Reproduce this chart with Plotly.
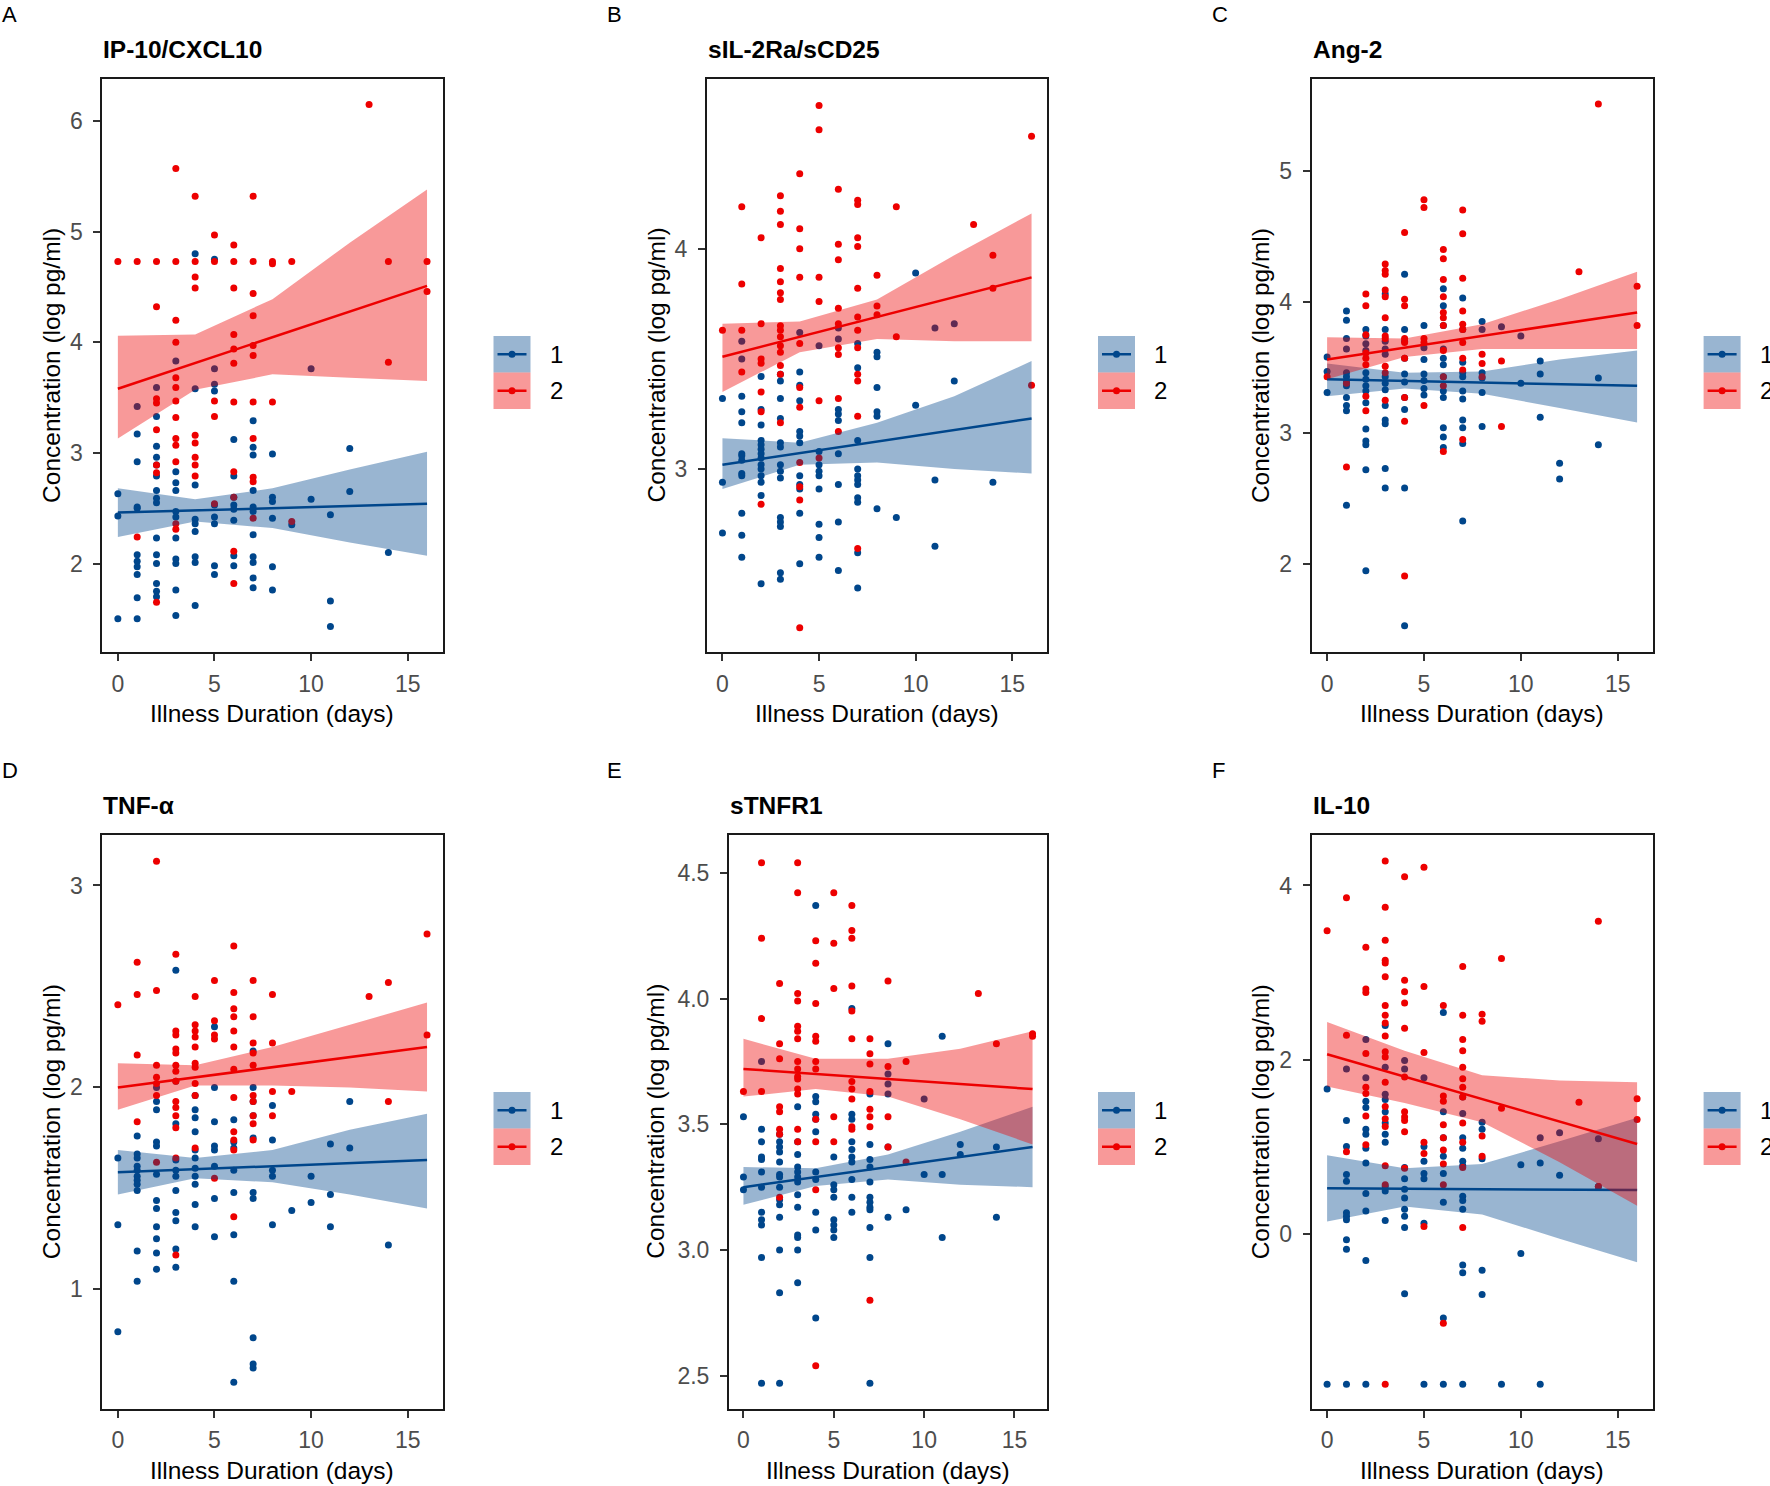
import plotly.graph_objects as go

W, H = 1770, 1486
FONT = "Liberation Sans, Arial, sans-serif"
BLUE = "#00468B"
RED = "#ED0000"
BLUE_FILL = "rgba(0,70,139,0.4)"
RED_FILL = "rgba(237,0,0,0.4)"

# ---------------- data (illness day -> log concentrations) ----------------
A_blue = {0: [2.63, 2.43, 1.50],
          1: [3.42, 3.17, 2.92, 2.51, 2.50, 2.08, 2.02, 1.97, 1.90, 1.69, 1.50],
          2: [3.59, 3.33, 3.06, 2.96, 2.89, 2.79, 2.66, 2.59, 2.55, 2.23, 2.08, 2.00, 1.82, 1.75, 1.70],
          3: [3.83, 2.83, 2.73, 2.66, 2.47, 2.42, 2.23, 2.04, 2.00, 1.76, 1.53],
          4: [4.80, 3.58, 2.71, 2.40, 2.36, 2.29, 2.06, 2.01, 1.62],
          5: [4.75, 3.76, 3.62, 3.56, 2.53, 2.42, 2.36, 1.98, 1.90],
          6: [3.12, 2.79, 2.60, 2.53, 2.49, 2.39, 2.07, 1.98],
          7: [3.29, 3.05, 2.98, 2.66, 2.51, 2.47, 2.26, 2.06, 2.01, 1.87, 1.78],
          8: [2.99, 2.60, 2.56, 2.41, 1.97, 1.76],
          9: [2.35], 10: [3.76, 2.58], 11: [2.44, 1.66, 1.43], 12: [3.04, 2.65], 14: [2.10]}
A_red = {0: [4.73], 1: [4.73, 2.24],
         2: [4.73, 4.32, 3.49, 3.45, 3.21, 2.89, 2.82, 1.65],
         3: [5.57, 4.73, 4.20, 4.00, 3.68, 3.59, 3.47, 3.32, 3.13, 3.07, 2.92, 2.36, 2.31],
         4: [5.32, 4.73, 4.59, 4.49, 3.16, 3.09, 2.96, 2.89, 2.79],
         5: [4.97, 4.73, 3.47, 3.33, 2.54],
         6: [4.88, 4.73, 4.49, 4.07, 3.94, 3.81, 3.46, 2.83, 2.60, 2.11, 1.82],
         7: [5.32, 4.73, 4.44, 4.24, 3.97, 3.88, 3.46, 3.13, 2.78, 2.74, 2.41],
         8: [4.73, 4.71, 3.46], 9: [4.73, 2.38], 13: [6.15], 14: [4.73, 3.82], 16: [4.73, 4.46]}

B_blue = {0: [3.32, 2.94, 2.71],
          1: [3.58, 3.50, 3.33, 3.26, 3.21, 3.07, 3.06, 3.04, 2.98, 2.97, 2.80, 2.70, 2.60],
          2: [3.42, 3.27, 3.20, 3.13, 3.11, 3.09, 3.07, 3.05, 3.02, 3.00, 2.97, 2.94, 2.88, 2.48],
          3: [3.43, 3.40, 3.32, 3.23, 3.12, 3.10, 3.02, 2.99, 2.96, 2.78, 2.76, 2.74, 2.53, 2.50],
          4: [3.62, 3.44, 3.38, 3.31, 3.17, 3.15, 3.12, 2.97, 2.93, 2.91, 2.80, 2.57],
          5: [3.56, 3.08, 3.02, 2.99, 2.97, 2.91, 2.75, 2.69, 2.60],
          6: [3.64, 3.59, 3.27, 3.25, 3.22, 3.07, 2.93, 2.76, 2.54],
          7: [3.57, 3.46, 3.13, 3.00, 2.97, 2.95, 2.93, 2.87, 2.85, 2.62, 2.46],
          8: [3.53, 3.51, 3.37, 3.26, 3.24, 2.82],
          9: [2.78], 10: [3.89, 3.29], 11: [3.64, 2.95, 2.65], 12: [3.66, 3.40], 14: [2.94]}
B_red = {0: [3.63], 1: [4.19, 3.84, 3.63, 3.44],
         2: [4.05, 3.66, 3.50, 3.48, 3.35, 3.26, 2.84],
         3: [4.24, 4.17, 4.11, 3.91, 3.85, 3.80, 3.77, 3.65, 3.63, 3.60, 3.56, 3.53, 3.47, 3.43, 3.21],
         4: [4.34, 4.09, 4.00, 3.87, 3.57, 3.37, 3.28, 3.03, 2.92, 2.86, 2.28],
         5: [4.65, 4.54, 3.87, 3.76, 3.31, 3.05],
         6: [4.27, 4.02, 3.95, 3.73, 3.66, 3.55, 3.52, 3.32, 3.17],
         7: [4.22, 4.20, 4.05, 4.01, 3.82, 3.69, 3.63, 3.55, 3.43, 3.40, 3.24, 2.64],
         8: [3.88, 3.74, 3.70], 9: [4.19, 3.60], 13: [4.11], 14: [3.97, 3.82], 16: [4.51, 3.38]}

C_blue = {0: [3.58, 3.47, 3.31],
          1: [3.93, 3.86, 3.72, 3.64, 3.46, 3.43, 3.39, 3.36, 3.27, 3.21, 3.17, 2.45],
          2: [3.79, 3.74, 3.68, 3.63, 3.46, 3.41, 3.36, 3.32, 3.23, 3.03, 2.94, 2.91, 2.72, 1.95],
          3: [4.06, 3.79, 3.70, 3.64, 3.60, 3.43, 3.38, 3.33, 3.21, 3.10, 3.07, 2.73, 2.58],
          4: [4.21, 3.79, 3.70, 3.57, 3.45, 3.39, 3.27, 3.18, 2.58, 1.53],
          5: [3.82, 3.65, 3.56, 3.45, 3.40, 3.34, 3.29],
          6: [4.10, 3.97, 3.82, 3.64, 3.57, 3.52, 3.43, 3.32, 3.27, 3.04, 2.97, 2.89],
          7: [4.03, 3.79, 3.54, 3.46, 3.43, 3.32, 3.26, 3.10, 3.04, 2.92, 2.33],
          8: [3.85, 3.79, 3.46, 3.42, 3.31, 3.05],
          9: [3.81], 10: [3.74, 3.38], 11: [3.55, 3.45, 3.12], 12: [2.77, 2.65], 14: [3.42, 2.91]}
C_red = {0: [3.43], 1: [3.38, 2.74],
         2: [4.06, 3.97, 3.75, 3.61, 3.57, 3.52, 3.28, 3.17],
         3: [4.29, 4.24, 4.21, 4.09, 4.04, 3.88, 3.74, 3.72, 3.51, 3.46, 3.25],
         4: [4.53, 4.02, 3.97, 3.72, 3.69, 3.57, 3.27, 3.09, 1.91],
         5: [4.78, 4.72, 3.72, 3.69, 3.21],
         6: [4.40, 4.33, 4.17, 4.04, 3.92, 3.88, 3.82, 3.63, 3.43, 3.36, 2.86],
         7: [4.70, 4.52, 4.18, 3.93, 3.83, 3.79, 3.69, 3.57, 3.48, 2.95],
         8: [3.60, 3.53, 3.43], 9: [3.55, 3.05], 13: [4.23], 14: [5.51], 16: [4.12, 3.82]}

D_blue = {0: [1.65, 1.32, 0.79],
          1: [1.76, 1.67, 1.65, 1.61, 1.59, 1.56, 1.54, 1.52, 1.49, 1.19, 1.04],
          2: [2.00, 1.93, 1.89, 1.73, 1.71, 1.57, 1.44, 1.40, 1.31, 1.25, 1.18, 1.10],
          3: [2.58, 2.03, 1.82, 1.64, 1.59, 1.56, 1.49, 1.38, 1.34, 1.20, 1.11],
          4: [1.96, 1.89, 1.85, 1.78, 1.69, 1.65, 1.60, 1.56, 1.52, 1.42, 1.31],
          5: [2.30, 2.00, 1.83, 1.71, 1.69, 1.61, 1.45, 1.26],
          6: [1.84, 1.73, 1.70, 1.59, 1.48, 1.27, 1.04, 0.54],
          7: [2.18, 2.00, 1.93, 1.86, 1.75, 1.48, 1.45, 0.76, 0.63, 0.61],
          8: [1.91, 1.74, 1.59, 1.56, 1.32],
          9: [1.39], 10: [1.56, 1.43], 11: [1.72, 1.47, 1.31], 12: [1.93, 1.70], 14: [1.22]}
D_red = {0: [2.41], 1: [2.62, 2.46, 2.16, 1.83],
         2: [3.12, 2.48, 2.11, 2.05, 2.02, 1.96, 1.63],
         3: [2.66, 2.28, 2.26, 2.19, 2.17, 2.11, 2.08, 2.03, 1.93, 1.90, 1.86, 1.80, 1.65, 1.17],
         4: [2.45, 2.31, 2.28, 2.25, 2.20, 2.12, 2.10, 2.02, 1.96, 1.70],
         5: [2.53, 2.33, 2.26, 2.24, 1.55],
         6: [2.70, 2.47, 2.39, 2.35, 2.28, 2.20, 2.09, 1.95, 1.78, 1.74, 1.69, 1.36],
         7: [2.53, 2.35, 2.22, 2.17, 2.11, 1.96, 1.93, 1.86, 1.82, 1.74],
         8: [2.46, 2.22, 1.98, 1.86], 9: [1.98], 13: [2.45], 14: [2.52, 1.93], 16: [2.76, 2.26]}

E_blue = {0: [3.53, 3.29, 3.24],
          1: [3.75, 3.48, 3.43, 3.37, 3.36, 3.31, 3.25, 3.15, 3.12, 3.10, 2.97, 2.47],
          2: [3.46, 3.43, 3.41, 3.39, 3.35, 3.30, 3.29, 3.25, 3.20, 3.18, 3.13, 3.00, 2.83, 2.47],
          3: [3.57, 3.43, 3.38, 3.33, 3.31, 3.29, 3.27, 3.22, 3.17, 3.06, 3.05, 3.00, 2.87],
          4: [4.37, 3.61, 3.59, 3.54, 3.52, 3.47, 3.31, 3.28, 3.15, 3.08, 2.73],
          5: [3.37, 3.26, 3.24, 3.21, 3.12, 3.10, 3.08, 3.05],
          6: [3.96, 3.54, 3.52, 3.43, 3.40, 3.37, 3.35, 3.28, 3.21, 3.15],
          7: [3.62, 3.42, 3.36, 3.33, 3.27, 3.21, 3.19, 3.17, 3.16, 3.09, 2.97, 2.47],
          8: [3.82, 3.70, 3.66, 3.62, 3.41, 3.13],
          9: [3.16], 10: [3.60, 3.30], 11: [3.85, 3.30, 3.05], 12: [3.42, 3.38], 14: [3.41, 3.13]}
E_red = {0: [3.63], 1: [4.54, 4.24, 3.92, 3.63],
         2: [4.06, 3.82, 3.76, 3.57, 3.55, 3.48, 3.46, 3.21],
         3: [4.54, 4.42, 4.02, 3.99, 3.89, 3.87, 3.84, 3.75, 3.72, 3.69, 3.68, 3.64, 3.62, 3.48, 3.43],
         4: [4.23, 4.14, 3.98, 3.85, 3.83, 3.75, 3.72, 3.52, 3.43, 3.24, 2.54],
         5: [4.42, 4.22, 4.04, 3.53, 3.43],
         6: [4.37, 4.27, 4.24, 4.05, 3.95, 3.84, 3.67, 3.64, 3.60, 3.49, 3.48],
         7: [3.84, 3.78, 3.74, 3.63, 3.56, 3.53, 3.49, 2.80],
         8: [4.07, 3.73, 3.53, 3.41], 9: [3.75, 3.35], 13: [4.02], 14: [3.82], 16: [3.86, 3.85]}

F_blue = {0: [1.66, -1.73],
          1: [1.89, 1.30, 1.00, 0.68, 0.60, 0.24, 0.20, 0.16, -0.07, -0.18, -1.73],
          2: [2.23, 1.79, 1.52, 1.45, 1.20, 1.14, 0.98, 0.81, 0.46, 0.26, -0.31, -1.73],
          3: [2.39, 1.91, 1.60, 1.54, 1.40, 1.27, 1.14, 1.05, 0.54, 0.49, 0.15],
          4: [1.99, 1.89, 0.76, 0.63, 0.51, 0.41, 0.28, 0.20, 0.07, -0.69],
          5: [1.79, 1.00, 0.83, 0.69, 0.63, 0.12, -1.73],
          6: [2.54, 1.40, 1.10, 0.89, 0.69, 0.36, -0.97, -1.73],
          7: [1.57, 1.38, 1.10, 0.98, 0.83, 0.78, 0.43, 0.38, 0.28, -0.36, -0.45, -1.73],
          8: [1.28, 1.20, 0.86, -0.42, -0.70],
          9: [-1.73], 10: [0.79, -0.23], 11: [1.10, 0.81, -1.73], 12: [1.16, 0.67], 14: [1.09, 0.54]}
F_red = {0: [3.48], 1: [3.86, 2.28, 0.94],
         2: [3.29, 2.81, 2.77, 2.07, 1.68, 1.61, 1.35, 1.02],
         3: [4.28, 3.75, 3.37, 3.14, 3.11, 2.95, 2.62, 2.51, 2.42, 2.27, 2.09, 2.03, 1.74, 1.46, 1.32, 1.23, 0.78, 0.56, -1.73],
         4: [4.10, 2.91, 2.78, 2.65, 2.36, 1.80, 1.40, 1.34, 1.30, 1.17, 0.75],
         5: [4.21, 2.84, 2.08, 1.05, 0.92, 0.08],
         6: [2.62, 1.58, 1.52, 1.25, 1.10, 0.96, 0.80, 0.56, -1.03],
         7: [3.07, 2.51, 2.23, 2.10, 1.91, 1.78, 1.68, 1.57, 1.27, 1.05, 0.76, 0.07],
         8: [2.52, 2.44, 1.12, 0.89], 9: [3.16, 1.44], 13: [1.51], 14: [3.59, 0.54], 16: [1.55, 1.31]}

# linear fits: line values at days 0 and 16, CI band at FIT_X
LINE_X = [0, 16]
FIT_X = [0, 4, 8, 12, 16]
A_blue_line, A_blue_lo, A_blue_hi = [2.46, 2.54], [2.24, 2.38, 2.32, 2.19, 2.07], [2.68, 2.58, 2.68, 2.85, 3.01]
A_red_line, A_red_lo, A_red_hi = [3.58, 4.51], [3.13, 3.57, 3.71, 3.68, 3.65], [4.06, 4.07, 4.39, 4.90, 5.38]
B_blue_line, B_blue_lo, B_blue_hi = [3.02, 3.23], [2.91, 3.02, 3.03, 3.00, 2.98], [3.14, 3.12, 3.21, 3.33, 3.49]
B_red_line, B_red_lo, B_red_hi = [3.51, 3.87], [3.35, 3.53, 3.59, 3.58, 3.58], [3.66, 3.67, 3.77, 3.97, 4.16]
C_blue_line, C_blue_lo, C_blue_hi = [3.41, 3.36], [3.28, 3.34, 3.30, 3.19, 3.08], [3.53, 3.46, 3.47, 3.56, 3.63]
C_red_line, C_red_lo, C_red_hi = [3.56, 3.92], [3.41, 3.58, 3.64, 3.64, 3.64], [3.73, 3.72, 3.83, 4.02, 4.23]
D_blue_line, D_blue_lo, D_blue_hi = [1.58, 1.64], [1.47, 1.55, 1.53, 1.47, 1.40], [1.69, 1.65, 1.69, 1.79, 1.87]
D_red_line, D_red_lo, D_red_hi = [2.00, 2.20], [1.89, 2.01, 2.01, 2.00, 1.98], [2.12, 2.11, 2.20, 2.31, 2.42]
E_blue_line, E_blue_lo, E_blue_hi = [3.25, 3.41], [3.18, 3.255, 3.28, 3.26, 3.25], [3.33, 3.325, 3.38, 3.47, 3.57]
E_red_line, E_red_lo, E_red_hi = [3.72, 3.64], [3.61, 3.64, 3.61, 3.52, 3.42], [3.84, 3.76, 3.76, 3.80, 3.87]
F_blue_line, F_blue_lo, F_blue_hi = [0.52, 0.50], [0.14, 0.31, 0.22, -0.06, -0.33], [0.90, 0.75, 0.80, 1.06, 1.33]
F_red_line, F_red_lo, F_red_hi = [2.06, 1.03], [1.69, 1.50, 1.28, 0.82, 0.32], [2.43, 2.10, 1.82, 1.76, 1.74]

TITLES = ["IP-10/CXCL10", "sIL-2Ra/sCD25", "Ang-2", "TNF-\u03b1", "sTNFR1", "IL-10"]
LETTERS = ["A", "B", "C", "D", "E", "F"]
X_TICKS = [0, 5, 10, 15]
Y_TICKS = [[2, 3, 4, 5, 6], [3, 4], [2, 3, 4, 5], [1, 2, 3], [2.5, 3.0, 3.5, 4.0, 4.5], [0, 2, 4]]
GROUP_LABELS = ["1", "2"]

# ---------------- layout settings (pixels) ----------------
panels = [
    dict(blue=A_blue, red=A_red, fits=[(A_blue_line, A_blue_lo, A_blue_hi), (A_red_line, A_red_lo, A_red_hi)],
         yr=[1.20, 6.38], left=102.4, base=102.4, right=442.5, row=0, fmt=None),
    dict(blue=B_blue, red=B_red, fits=[(B_blue_line, B_blue_lo, B_blue_hi), (B_red_line, B_red_lo, B_red_hi)],
         yr=[2.17, 4.77], left=707.0, base=707.0, right=1047.0, row=0, fmt=None),
    dict(blue=C_blue, red=C_red, fits=[(C_blue_line, C_blue_lo, C_blue_hi), (C_red_line, C_red_lo, C_red_hi)],
         yr=[1.33, 5.70], left=1311.6, base=1311.6, right=1652.6, row=0, fmt=None),
    dict(blue=D_blue, red=D_red, fits=[(D_blue_line, D_blue_lo, D_blue_hi), (D_red_line, D_red_lo, D_red_hi)],
         yr=[0.41, 3.25], left=102.4, base=102.4, right=442.5, row=1, fmt=None),
    dict(blue=E_blue, red=E_red, fits=[(E_blue_line, E_blue_lo, E_blue_hi), (E_red_line, E_red_lo, E_red_hi)],
         yr=[2.37, 4.65], left=729.0, base=707.0, right=1047.0, row=1, fmt=".1f"),
    dict(blue=F_blue, red=F_red, fits=[(F_blue_line, F_blue_lo, F_blue_hi), (F_red_line, F_red_lo, F_red_hi)],
         yr=[-2.01, 4.58], left=1311.6, base=1311.6, right=1652.6, row=1, fmt=None),
]
ROW_TOP = [79.0, 835.0]
ROW_BOT = [652.0, 1408.5]


def fx(px):
    return px / W


def fy(py):
    return 1 - py / H


def expand(d):
    xs, ys = [], []
    for k, vals in d.items():
        for v in vals:
            xs.append(k)
            ys.append(v)
    return xs, ys


fig = go.Figure()
annotations = []
shapes = []

for i, p in enumerate(panels):
    n = i + 1
    xa = "x" if n == 1 else f"x{n}"
    ya = "y" if n == 1 else f"y{n}"
    top, bot = ROW_TOP[p["row"]], ROW_BOT[p["row"]]

    # points first
    for grp, col in ((p["blue"], BLUE), (p["red"], RED)):
        xs, ys = expand(grp)
        fig.add_trace(go.Scatter(x=xs, y=ys, mode="markers", xaxis=xa, yaxis=ya,
                                 marker=dict(color=col, size=7, line=dict(width=0)),
                                 showlegend=False, hoverinfo="skip"))
    # ribbons and lines
    for (line, lo, hi), col, fill in zip(p["fits"], (BLUE, RED), (BLUE_FILL, RED_FILL)):
        fig.add_trace(go.Scatter(x=FIT_X + FIT_X[::-1], y=hi + lo[::-1], mode="lines",
                                 fill="toself", fillcolor=fill, line=dict(width=0),
                                 xaxis=xa, yaxis=ya, showlegend=False, hoverinfo="skip"))
        fig.add_trace(go.Scatter(x=LINE_X, y=line, mode="lines", line=dict(color=col, width=2.5),
                                 xaxis=xa, yaxis=ya, showlegend=False, hoverinfo="skip"))

    axis_common = dict(showline=True, mirror=True, linecolor="#1a1a1a", linewidth=2,
                       ticks="outside", ticklen=7, tickwidth=2, tickcolor="#333333",
                       showgrid=False, zeroline=False,
                       tickfont=dict(family=FONT, size=23, color="#4d4d4d"))
    xkey = "xaxis" if n == 1 else f"xaxis{n}"
    ykey = "yaxis" if n == 1 else f"yaxis{n}"
    fig.layout[xkey] = dict(domain=[fx(p["left"]), fx(p["right"])], anchor=ya,
                            range=[-0.8, 16.8], tickvals=X_TICKS, ticklabelstandoff=3, **axis_common)
    ydict = dict(domain=[fy(bot), fy(top)], anchor=xa, range=p["yr"], tickvals=Y_TICKS[i],
                 ticklabelstandoff=6, **axis_common)
    if p["fmt"]:
        ydict["tickformat"] = p["fmt"]
    fig.layout[ykey] = ydict

    # panel letter
    annotations.append(dict(text=LETTERS[i], x=fx(p["base"] - 102), y=fy(top - 79), xref="paper", yref="paper",
                            xanchor="left", yanchor="top", showarrow=False,
                            font=dict(family=FONT, size=22, color="black")))
    # title
    annotations.append(dict(text="<b>" + TITLES[i] + "</b>", x=fx(p["left"] - 1), y=fy(top - 30),
                            xref="paper", yref="paper", xanchor="left", yanchor="middle", showarrow=False,
                            font=dict(family=FONT, size=24.5, color="black")))
    # y axis title
    annotations.append(dict(text="Concentration (log pg/ml)", x=fx(p["base"] - 51), y=fy((top + bot) / 2),
                            xref="paper", yref="paper", xanchor="center", yanchor="middle", textangle=-90,
                            showarrow=False, font=dict(family=FONT, size=24.5, color="black")))
    # x axis title
    annotations.append(dict(text="Illness Duration (days)", x=fx((p["left"] + p["right"]) / 2), y=fy(bot + 62),
                            xref="paper", yref="paper", xanchor="center", yanchor="middle",
                            showarrow=False, font=dict(family=FONT, size=24.5, color="black")))

    # legend (manual keys)
    lx0, lx1 = p["right"] + 51, p["right"] + 88
    ly = top + 257
    for j, (fill, col) in enumerate(((BLUE_FILL, BLUE), (RED_FILL, RED))):
        y0, y1 = ly + j * 36.5, ly + (j + 1) * 36.5
        yc = (y0 + y1) / 2
        shapes.append(dict(type="rect", xref="paper", yref="paper", x0=fx(lx0), x1=fx(lx1),
                           y0=fy(y1), y1=fy(y0), fillcolor=fill, line=dict(width=0)))
        shapes.append(dict(type="line", xref="paper", yref="paper", x0=fx(lx0 + 4), x1=fx(lx1 - 4),
                           y0=fy(yc), y1=fy(yc), line=dict(color=col, width=2.5)))
        shapes.append(dict(type="circle", xref="paper", yref="paper", x0=fx((lx0 + lx1) / 2 - 3.5),
                           x1=fx((lx0 + lx1) / 2 + 3.5), y0=fy(yc + 3.5), y1=fy(yc - 3.5),
                           fillcolor=col, line=dict(width=0)))
        annotations.append(dict(text=GROUP_LABELS[j], x=fx(lx1 + 17), y=fy(yc), xref="paper", yref="paper",
                                xanchor="left", yanchor="middle", showarrow=False,
                                font=dict(family=FONT, size=24, color="black")))

fig.update_layout(width=W, height=H, margin=dict(l=0, r=0, t=0, b=0),
                  paper_bgcolor="white", plot_bgcolor="white", showlegend=False,
                  annotations=annotations, shapes=shapes, font=dict(family=FONT))

fig.write_html("out.html", config={"displayModeBar": False},
               post_script="document.body.style.margin='0';document.body.style.overflow='hidden';")
